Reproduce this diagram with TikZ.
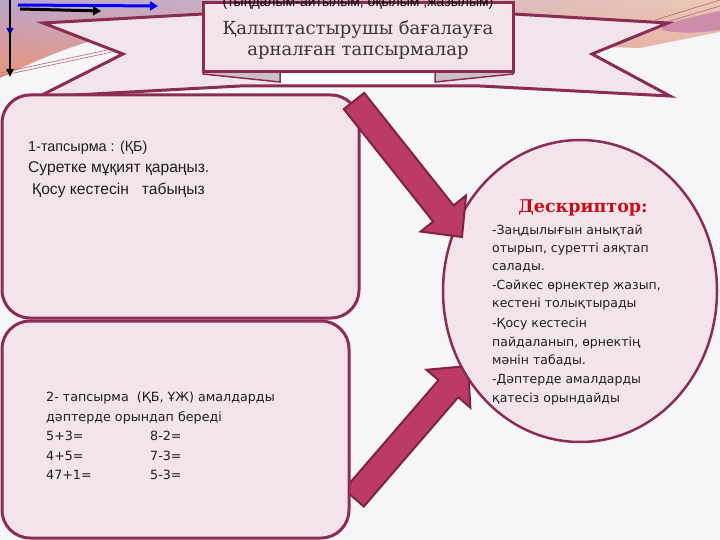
\documentclass[tikz,border=0pt]{standalone}
\usepackage{fontspec}
\usetikzlibrary{calc,shapes.geometric,arrows.meta,shadings}
\newfontfamily\titlefont{DejaVu Serif}
\newfontfamily\sansA{Liberation Sans}
\newfontfamily\sansB{DejaVu Sans}
\newfontfamily\descfont{DejaVu Serif}
\definecolor{maroon}{RGB}{139,45,82}
\definecolor{boxpink}{RGB}{243,228,236}
\definecolor{ribbonpink}{RGB}{241,228,236}
\definecolor{arrowfill}{RGB}{188,58,104}
\definecolor{arrowline}{RGB}{125,35,68}
\definecolor{bgcol}{RGB}{246,245,247}
\definecolor{foldgray}{RGB}{200,192,196}
\definecolor{titlegray}{RGB}{58,50,54}
\definecolor{descred}{RGB}{200,12,22}
\definecolor{textdark}{RGB}{30,30,30}
\definecolor{lav}{RGB}{186,164,204}
\definecolor{orng}{RGB}{232,150,120}
\definecolor{peach}{RGB}{236,200,182}
\definecolor{peachlow}{RGB}{230,172,160}
\definecolor{mauve}{RGB}{204,140,170}
\definecolor{swline}{RGB}{176,104,110}
\begin{document}
\begin{tikzpicture}[x=1pt,y=-1pt,
  taskbox/.style={draw=maroon, line width=3pt, fill=boxpink, rounded corners=28pt, rectangle, inner sep=0pt},
  ribbon/.style={draw=maroon, line width=3pt, fill=ribbonpink, line join=miter},
  fold/.style={draw=maroon, line width=1.5pt, fill=foldgray},
  blockarrow/.style={draw=arrowline, line width=2pt, fill=arrowfill, line join=miter},
  tA/.style={anchor=base west, inner sep=0pt, text=textdark, font=\sansA\fontsize{14.4}{16}\selectfont},
  tAb/.style={anchor=base west, inner sep=0pt, text=textdark, font=\sansA\fontsize{15.6}{18}\selectfont},
  tB/.style={anchor=base west, inner sep=0pt, text=textdark, font=\sansB\fontsize{12.7}{15}\selectfont},
  tD/.style={anchor=base west, inner sep=0pt, text=textdark, font=\sansB\fontsize{12.5}{15}\selectfont},
  ttl/.style={anchor=base, inner sep=0pt, text=titlegray, font=\titlefont\fontsize{18}{21}\selectfont}
]
\useasboundingbox (0,0) rectangle (720,540);
\clip (0,0) rectangle (720,540);
% background
\fill[bgcol] (0,0) rectangle (720,540);
\shade[upper left=lav, lower left=orng, upper right=peach, lower right=peachlow]
  (0,0) -- (720,0) -- (720,32) .. controls (690,38) and (660,44) .. (640,48) -- (125,33)
  .. controls (85,40) and (45,56) .. (0,78) -- cycle;
\fill[mauve] (662,26) .. controls (685,18) and (705,14) .. (720,11) -- (720,30) .. controls (700,33) and (680,34) .. (662,30) -- cycle;
\draw[swline, line width=0.6pt] (0,73) -- (112,49);
\draw[swline, line width=0.6pt] (0,76) -- (112,52);
\draw[swline, line width=0.6pt] (655,20) -- (720,0);
\draw[swline, line width=0.6pt] (660,24) -- (720,6);
% ribbon back band
\draw[ribbon] (43,23) -- (123,54) -- (38,97) -- (240,86) -- (480,86) -- (670,96)
  -- (592,54) -- (668,23) -- (513,14) -- (203,14) -- cycle;
\fill[white] (280,72) rectangle (435,84.5);
\draw[fold] (203,72) -- (280,72) -- (280,82) -- (203,74) -- cycle;
\draw[fold] (435,72) -- (513,72) -- (513,74) -- (435,82) -- cycle;
% title box
\node[draw=maroon, line width=3pt, fill=boxpink, rectangle, inner sep=0pt,
      minimum width=310pt, minimum height=69pt] (title) at (358,37.5) {};
\node[anchor=base, inner sep=0pt, text=black, font=\sansA\fontsize{14}{16}\selectfont] (sub) at (358,7) {(тыңдалым-айтылым, оқылым ,жазылым)};
\node[ttl] (t1) at (358,35) {Қалыптастырушы бағалауға};
\node[ttl] (t2) at (358,56) {арналған тапсырмалар};
% top-left arrows
\draw[blue, line width=1.5pt, -{Triangle[length=7pt,width=7pt]}] (10,0) -- (10,35);
\draw[black, line width=2pt, -{Triangle[length=8pt,width=7pt]}] (10,0) -- (10,77);
\draw[blue, line width=3pt, -{Triangle[length=8pt,width=9pt]}] (18,5) -- (158,6);
\draw[black, line width=3pt, -{Triangle[length=8pt,width=9pt]}] (20,9) -- (101,11);
% arrow 2 (behind box 2)
\coordinate (ta2) at (354,498);
\coordinate (pa2) at (468,366);
\coordinate (ba2) at ($(pa2)!30pt!(ta2)$);
\draw[blockarrow] ($(ta2)!13pt!90:(pa2)$) -- ($(ba2)!13pt!90:(pa2)$) -- ($(ba2)!29pt!90:(pa2)$) -- (pa2)
  -- ($(ba2)!29pt!-90:(pa2)$) -- ($(ba2)!13pt!-90:(pa2)$) -- ($(ta2)!13pt!-90:(pa2)$) -- cycle;
% task boxes
\node[taskbox, minimum width=357pt, minimum height=223pt] (box1) at (180.5,206.5) {};
\node[taskbox, minimum width=347pt, minimum height=217pt] (box2) at (175.5,429.5) {};
% descriptor ellipse
\node[ellipse, draw=maroon, line width=2.5pt, fill=boxpink, inner sep=0pt,
      minimum width=274pt, minimum height=302pt] (desc) at (580,291) {};
% arrow 1
\coordinate (ta1) at (354,101);
\coordinate (pa1) at (462,237);
\coordinate (ba1) at ($(pa1)!30pt!(ta1)$);
\draw[blockarrow] ($(ta1)!13pt!90:(pa1)$) -- ($(ba1)!13pt!90:(pa1)$) -- ($(ba1)!29pt!90:(pa1)$) -- (pa1)
  -- ($(ba1)!29pt!-90:(pa1)$) -- ($(ba1)!13pt!-90:(pa1)$) -- ($(ta1)!13pt!-90:(pa1)$) -- cycle;
% box 1 text
\node[tA] (b1l1) at (28,152) {1-тапсырма : (ҚБ)};
\node[tAb] (b1l2) at (28,173) {Суретке мұқият қараңыз.};
\node[tAb] (b1l3) at (32,195) {Қосу кестесін\ \ \ табыңыз};
% box 2 text
\node[tB] (b2l1) at (46,401) {2- тапсырма\ \ (ҚБ, ҰЖ) амалдарды};
\node[tB] (b2l2) at (46,421) {дәптерде орындап береді};
\node[tB] (e1) at (46,440) {5+3=};
\node[tB] (e2) at (150,440) {8-2=};
\node[tB] (e3) at (46,460) {4+5=};
\node[tB] (e4) at (150,460) {7-3=};
\node[tB] (e5) at (46,479) {47+1=};
\node[tB] (e6) at (150,479) {5-3=};
% descriptor text
\node[anchor=base, inner sep=0pt, text=descred, font=\descfont\bfseries\fontsize{17.5}{20}\selectfont] (dh) at (583,213) {Дескриптор:};
\node[tD] (d1) at (492,234) {-Заңдылығын анықтай};
\node[tD] (d2) at (492,252) {отырып, суретті аяқтап};
\node[tD] (d3) at (492,270) {салады.};
\node[tD] (d4) at (492,289) {-Сәйкес өрнектер жазып,};
\node[tD] (d5) at (492,307) {кестені толықтырады};
\node[tD] (d6) at (492,327) {-Қосу кестесін};
\node[tD] (d7) at (492,346) {пайдаланып, өрнектің};
\node[tD] (d8) at (492,364) {мәнін табады.};
\node[tD] (d9) at (492,383) {-Дәптерде амалдарды};
\node[tD] (d10) at (492,402) {қатесіз орындайды};
\end{tikzpicture}
\end{document}
